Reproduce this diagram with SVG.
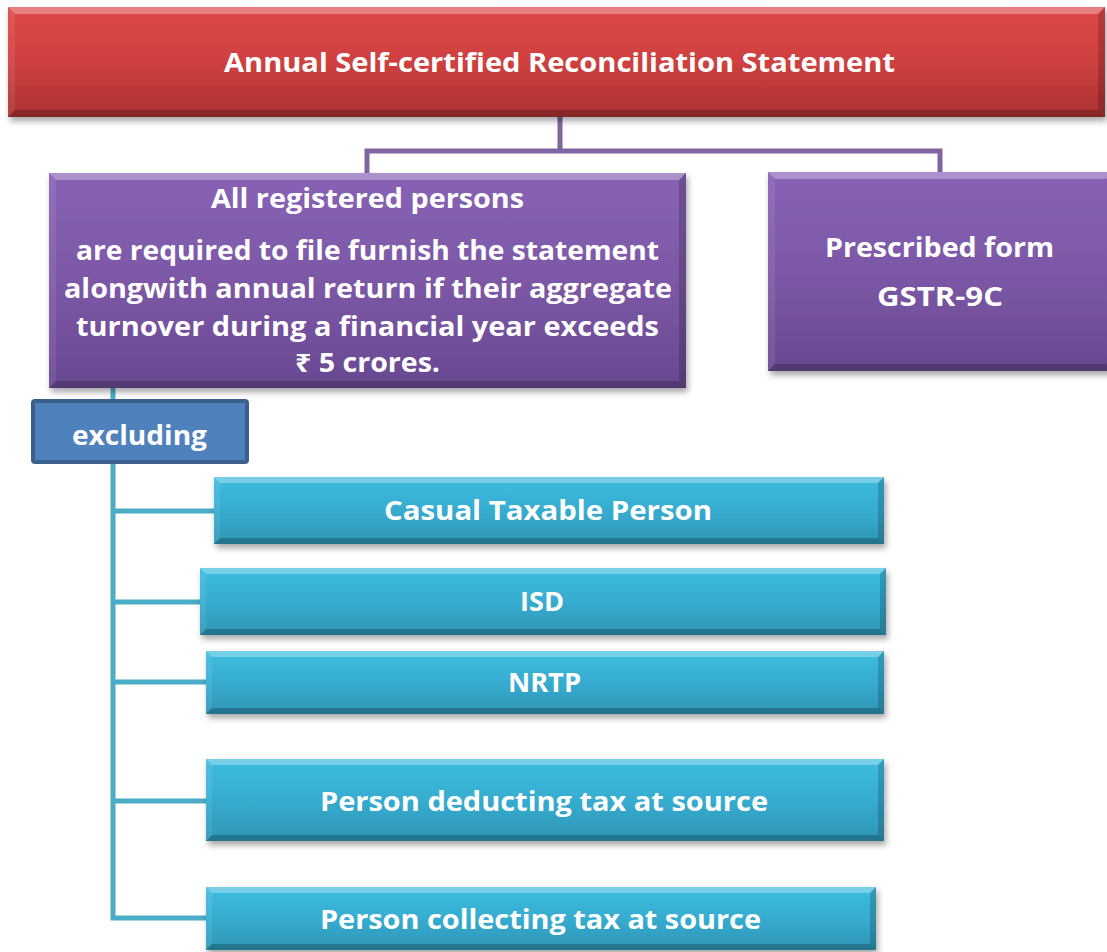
<svg xmlns="http://www.w3.org/2000/svg" width="1107" height="952" viewBox="0 0 1107 952">
  <defs>
    <linearGradient id="gRed" x1="0" y1="0" x2="0" y2="1">
      <stop offset="0" stop-color="#de4848"/>
      <stop offset="0.5" stop-color="#cf4040"/>
      <stop offset="1" stop-color="#aa3131"/>
    </linearGradient>
    <linearGradient id="gPur" x1="0" y1="0" x2="0" y2="1">
      <stop offset="0" stop-color="#8862b6"/>
      <stop offset="0.5" stop-color="#7c58a6"/>
      <stop offset="1" stop-color="#694891"/>
    </linearGradient>
    <linearGradient id="gTeal" x1="0" y1="0" x2="0" y2="1">
      <stop offset="0" stop-color="#3dbde0"/>
      <stop offset="0.5" stop-color="#36acd0"/>
      <stop offset="1" stop-color="#2e95b5"/>
    </linearGradient>
    <filter id="shadow" x="-5%" y="-10%" width="110%" height="130%">
      <feDropShadow dx="2" dy="4" stdDeviation="3" flood-color="#000" flood-opacity="0.35"/>
    </filter>
  </defs>
  <style>
    .txt { font-family: "Open Sans", "Noto Sans", "DejaVu Sans", sans-serif; font-weight: 700; fill: #ffffff; text-anchor: middle; }
    .t27 { font-size: 27px; }
    .t26 { font-size: 26px; }
    .bt { fill: #ffffff; fill-opacity: 0.3; }
    .bl { fill: #ffffff; fill-opacity: 0.08; }
    .br { fill: #000000; fill-opacity: 0.18; }
    .bb { fill: #000000; fill-opacity: 0.22; }
    .red { fill: url(#gRed); filter: url(#shadow); }
    .pur { fill: url(#gPur); filter: url(#shadow); }
    .teal { fill: url(#gTeal); filter: url(#shadow); }
    .cpur { fill: none; stroke: #8064a2; stroke-width: 5; }
    .cteal { fill: none; stroke: #4bacc6; stroke-width: 5; }
  </style>

  <g id="connectors">
    <path class="cpur" d="M560,117 V151 M367,175 V151 H940 V174"/>
    <path class="cteal" d="M113,388 V918 H208 M113,511 H216 M113,602 H202 M113,682 H208 M113,801 H208"/>
  </g>

  <g id="node-title">
    <rect class="red" x="8" y="7" width="1097" height="110"/>
    <polygon class="bt" points="8,7 1105,7 1098,14 15,14"/>
    <polygon class="bl" points="8,7 15,14 15,110 8,117"/>
    <polygon class="br" points="1105,7 1105,117 1098,110 1098,14"/>
    <polygon class="bb" points="8,117 1105,117 1098,110 15,110"/>
    <text class="txt t27" x="559.5" y="72" textLength="671" lengthAdjust="spacingAndGlyphs">Annual Self-certified Reconciliation Statement</text>
  </g>

  <g id="node-registered">
    <rect class="pur" x="49" y="173" width="637" height="215"/>
    <polygon class="bt" points="49,173 686,173 679,180 56,180"/>
    <polygon class="bl" points="49,173 56,180 56,381 49,388"/>
    <polygon class="br" points="686,173 686,388 679,381 679,180"/>
    <polygon class="bb" points="49,388 686,388 679,381 56,381"/>
    <text class="txt t26" x="367.5" y="208" textLength="313" lengthAdjust="spacingAndGlyphs">All registered persons</text>
    <text class="txt t26" x="367.5" y="260" textLength="583" lengthAdjust="spacingAndGlyphs">are required to file furnish the statement</text>
    <text class="txt t26" x="368" y="298" textLength="608" lengthAdjust="spacingAndGlyphs">alongwith annual return if their aggregate</text>
    <text class="txt t26" x="367.5" y="336" textLength="583" lengthAdjust="spacingAndGlyphs">turnover during a financial year exceeds</text>
    <text class="txt t26" x="367.5" y="372" textLength="145" lengthAdjust="spacingAndGlyphs">₹ 5 crores.</text>
  </g>

  <g id="node-form">
    <rect class="pur" x="768" y="172" width="345" height="199"/>
    <polygon class="bt" points="768,172 1113,172 1106,179 775,179"/>
    <polygon class="bl" points="768,172 775,179 775,364 768,371"/>
    <polygon class="bb" points="768,371 1113,371 1106,364 775,364"/>
    <text class="txt t26" x="939.5" y="257" textLength="229" lengthAdjust="spacingAndGlyphs">Prescribed form</text>
    <text class="txt t26" x="940" y="306" textLength="126" lengthAdjust="spacingAndGlyphs">GSTR-9C</text>
  </g>

  <g id="node-excluding">
    <rect x="33" y="401" width="214" height="61" rx="2" fill="#4f81bd" stroke="#3a5f8b" stroke-width="4"/>
    <text class="txt t26" x="139.5" y="445" textLength="135" lengthAdjust="spacingAndGlyphs">excluding</text>
  </g>

  <g id="node-casual">
    <rect class="teal" x="214" y="477" width="670" height="67"/>
    <polygon class="bt" points="214,477 884,477 878,483 220,483"/>
    <polygon class="bl" points="214,477 220,483 220,538 214,544"/>
    <polygon class="br" points="884,477 884,544 878,538 878,483"/>
    <polygon class="bb" points="214,544 884,544 878,538 220,538"/>
    <text class="txt t26" x="548" y="520" textLength="328" lengthAdjust="spacingAndGlyphs">Casual Taxable Person</text>
  </g>

  <g id="node-isd">
    <rect class="teal" x="200" y="568" width="686" height="67"/>
    <polygon class="bt" points="200,568 886,568 880,574 206,574"/>
    <polygon class="bl" points="200,568 206,574 206,629 200,635"/>
    <polygon class="br" points="886,568 886,635 880,629 880,574"/>
    <polygon class="bb" points="200,635 886,635 880,629 206,629"/>
    <text class="txt t26" x="542" y="611" textLength="44" lengthAdjust="spacingAndGlyphs">ISD</text>
  </g>

  <g id="node-nrtp">
    <rect class="teal" x="206" y="651" width="678" height="63"/>
    <polygon class="bt" points="206,651 884,651 878,657 212,657"/>
    <polygon class="bl" points="206,651 212,657 212,708 206,714"/>
    <polygon class="br" points="884,651 884,714 878,708 878,657"/>
    <polygon class="bb" points="206,714 884,714 878,708 212,708"/>
    <text class="txt t26" x="544.5" y="692" textLength="73" lengthAdjust="spacingAndGlyphs">NRTP</text>
  </g>

  <g id="node-tds">
    <rect class="teal" x="206" y="759" width="678" height="82"/>
    <polygon class="bt" points="206,759 884,759 878,765 212,765"/>
    <polygon class="bl" points="206,759 212,765 212,835 206,841"/>
    <polygon class="br" points="884,759 884,841 878,835 878,765"/>
    <polygon class="bb" points="206,841 884,841 878,835 212,835"/>
    <text class="txt t26" x="544" y="811" textLength="448" lengthAdjust="spacingAndGlyphs">Person deducting tax at source</text>
  </g>

  <g id="node-tcs">
    <rect class="teal" x="206" y="887" width="670" height="63"/>
    <polygon class="bt" points="206,887 876,887 870,893 212,893"/>
    <polygon class="bl" points="206,887 212,893 212,944 206,950"/>
    <polygon class="br" points="876,887 876,950 870,944 870,893"/>
    <polygon class="bb" points="206,950 876,950 870,944 212,944"/>
    <text class="txt t26" x="540.5" y="929" textLength="441" lengthAdjust="spacingAndGlyphs">Person collecting tax at source</text>
  </g>
</svg>
